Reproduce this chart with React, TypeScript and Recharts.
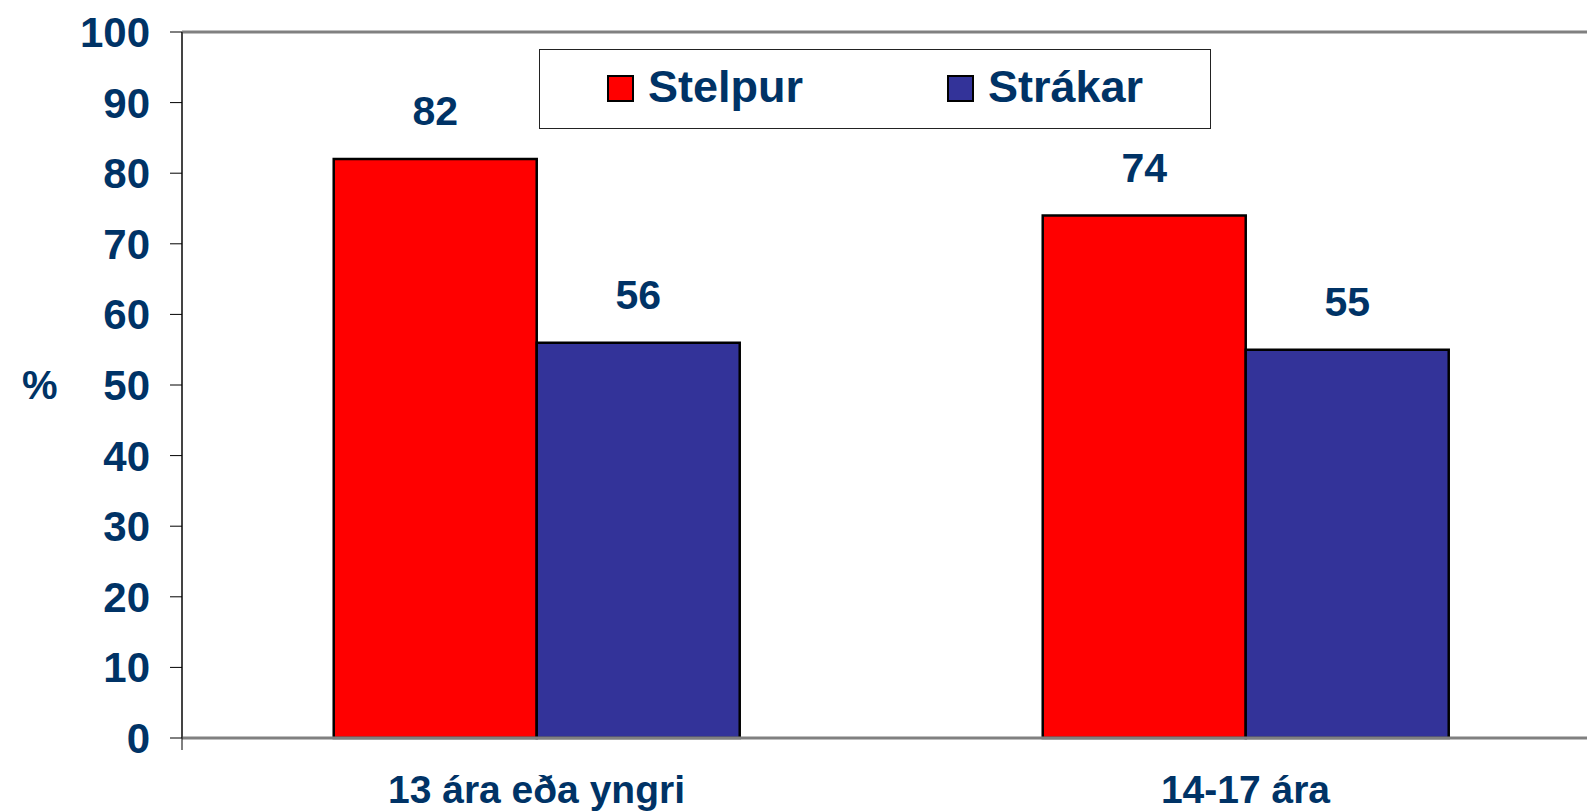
import React from 'react';
import { BarChart, Bar, XAxis, YAxis, ReferenceLine, LabelList, Legend } from 'recharts';

const categories = ['13 ára eða yngri', '14-17 ára'];
const stelpur = [82, 74];
const strakar = [56, 55];
const yTicks = [0, 10, 20, 30, 40, 50, 60, 70, 80, 90, 100];
const seriesNames = { stelpur: 'Stelpur', strakar: 'Strákar' };

const data = categories.map((c, i) => ({ cat: c, stelpur: stelpur[i], strakar: strakar[i] }));

const FONT = '"Liberation Sans", Arial, sans-serif';
const TEXT = '#003366';

const LegendBox = (props: any) => {
  const payload = props.payload || [];
  return (
    <div
      style={{
        boxSizing: 'border-box',
        width: 672,
        height: 80,
        border: '1.5px solid #222',
        background: '#fff',
        display: 'flex',
        alignItems: 'center',
        paddingLeft: 67,
        paddingBottom: 6,
      }}
    >
      {payload.map((p: any, i: number) => (
        <div key={p.value} style={{ display: 'flex', alignItems: 'center', width: i === 0 ? 340 : 'auto', flexShrink: 0 }}>
          <div
            style={{
              boxSizing: 'border-box',
              width: 27,
              height: 27,
              background: p.color,
              border: '2.5px solid #000',
              marginRight: 14,
              marginTop: 4,
            }}
          />
          <span style={{ fontFamily: FONT, fontWeight: 'bold', fontSize: 45, color: TEXT, lineHeight: 1 }}>
            {p.value}
          </span>
        </div>
      ))}
    </div>
  );
};

const EmptyTick = () => <g />;

export default function App() {
  return (
    <div style={{ position: 'absolute', left: 0, top: 0, width: 1587, height: 812, overflow: 'hidden', background: '#fff' }}>
      <BarChart
        width={1600}
        height={812}
        data={data}
        margin={{ top: 32, right: 0, left: 0, bottom: 0 }}
        barCategoryGap="21.4%"
        barGap={0}
      >
        <XAxis
          xAxisId="bnd"
          type="number"
          domain={[0, 2]}
          ticks={[0, 1, 2]}
          allowDataOverflow
          height={14}
          tick={<EmptyTick />}
          tickSize={12}
          tickLine={{ stroke: '#000', strokeWidth: 1 }}
          axisLine={{ stroke: '#808080', strokeWidth: 3 }}
        />
        <XAxis
          xAxisId="cat"
          dataKey="cat"
          height={60}
          axisLine={false}
          tickLine={false}
          tickSize={0}
          tickMargin={23}
          interval={0}
          tick={{ fill: TEXT, fontSize: 39, fontWeight: 'bold', fontFamily: FONT }}
        />
        <YAxis
          width={182}
          domain={[0, 100]}
          ticks={yTicks}
          interval={0}
          tickSize={12}
          tickMargin={20}
          axisLine={{ stroke: '#444', strokeWidth: 2 }}
          tickLine={{ stroke: '#000', strokeWidth: 1 }}
          tick={{ fill: TEXT, fontSize: 42, fontWeight: 'bold', fontFamily: FONT }}
          label={{ value: '%', position: 'insideLeft', offset: 22, fill: TEXT, fontSize: 40, fontWeight: 'bold', fontFamily: FONT }}
        />
        <ReferenceLine xAxisId="cat" y={100} stroke="#808080" strokeWidth={3} />
        <Legend
          layout="horizontal"
          verticalAlign="middle"
          align="center"
          wrapperStyle={{ left: 539, top: 49, width: 672, height: 80 }}
          content={<LegendBox />}
        />
        <Bar xAxisId="cat" dataKey="stelpur" name={seriesNames.stelpur} fill="#FF0000" stroke="#000" strokeWidth={2.5} isAnimationActive={false}>
          <LabelList dataKey="stelpur" position="top" offset={34} fill={TEXT} fontSize={41} fontWeight="bold" fontFamily={FONT} />
        </Bar>
        <Bar xAxisId="cat" dataKey="strakar" name={seriesNames.strakar} fill="#333399" stroke="#000" strokeWidth={2.5} isAnimationActive={false}>
          <LabelList dataKey="strakar" position="top" offset={34} fill={TEXT} fontSize={41} fontWeight="bold" fontFamily={FONT} />
        </Bar>
      </BarChart>
    </div>
  );
}
